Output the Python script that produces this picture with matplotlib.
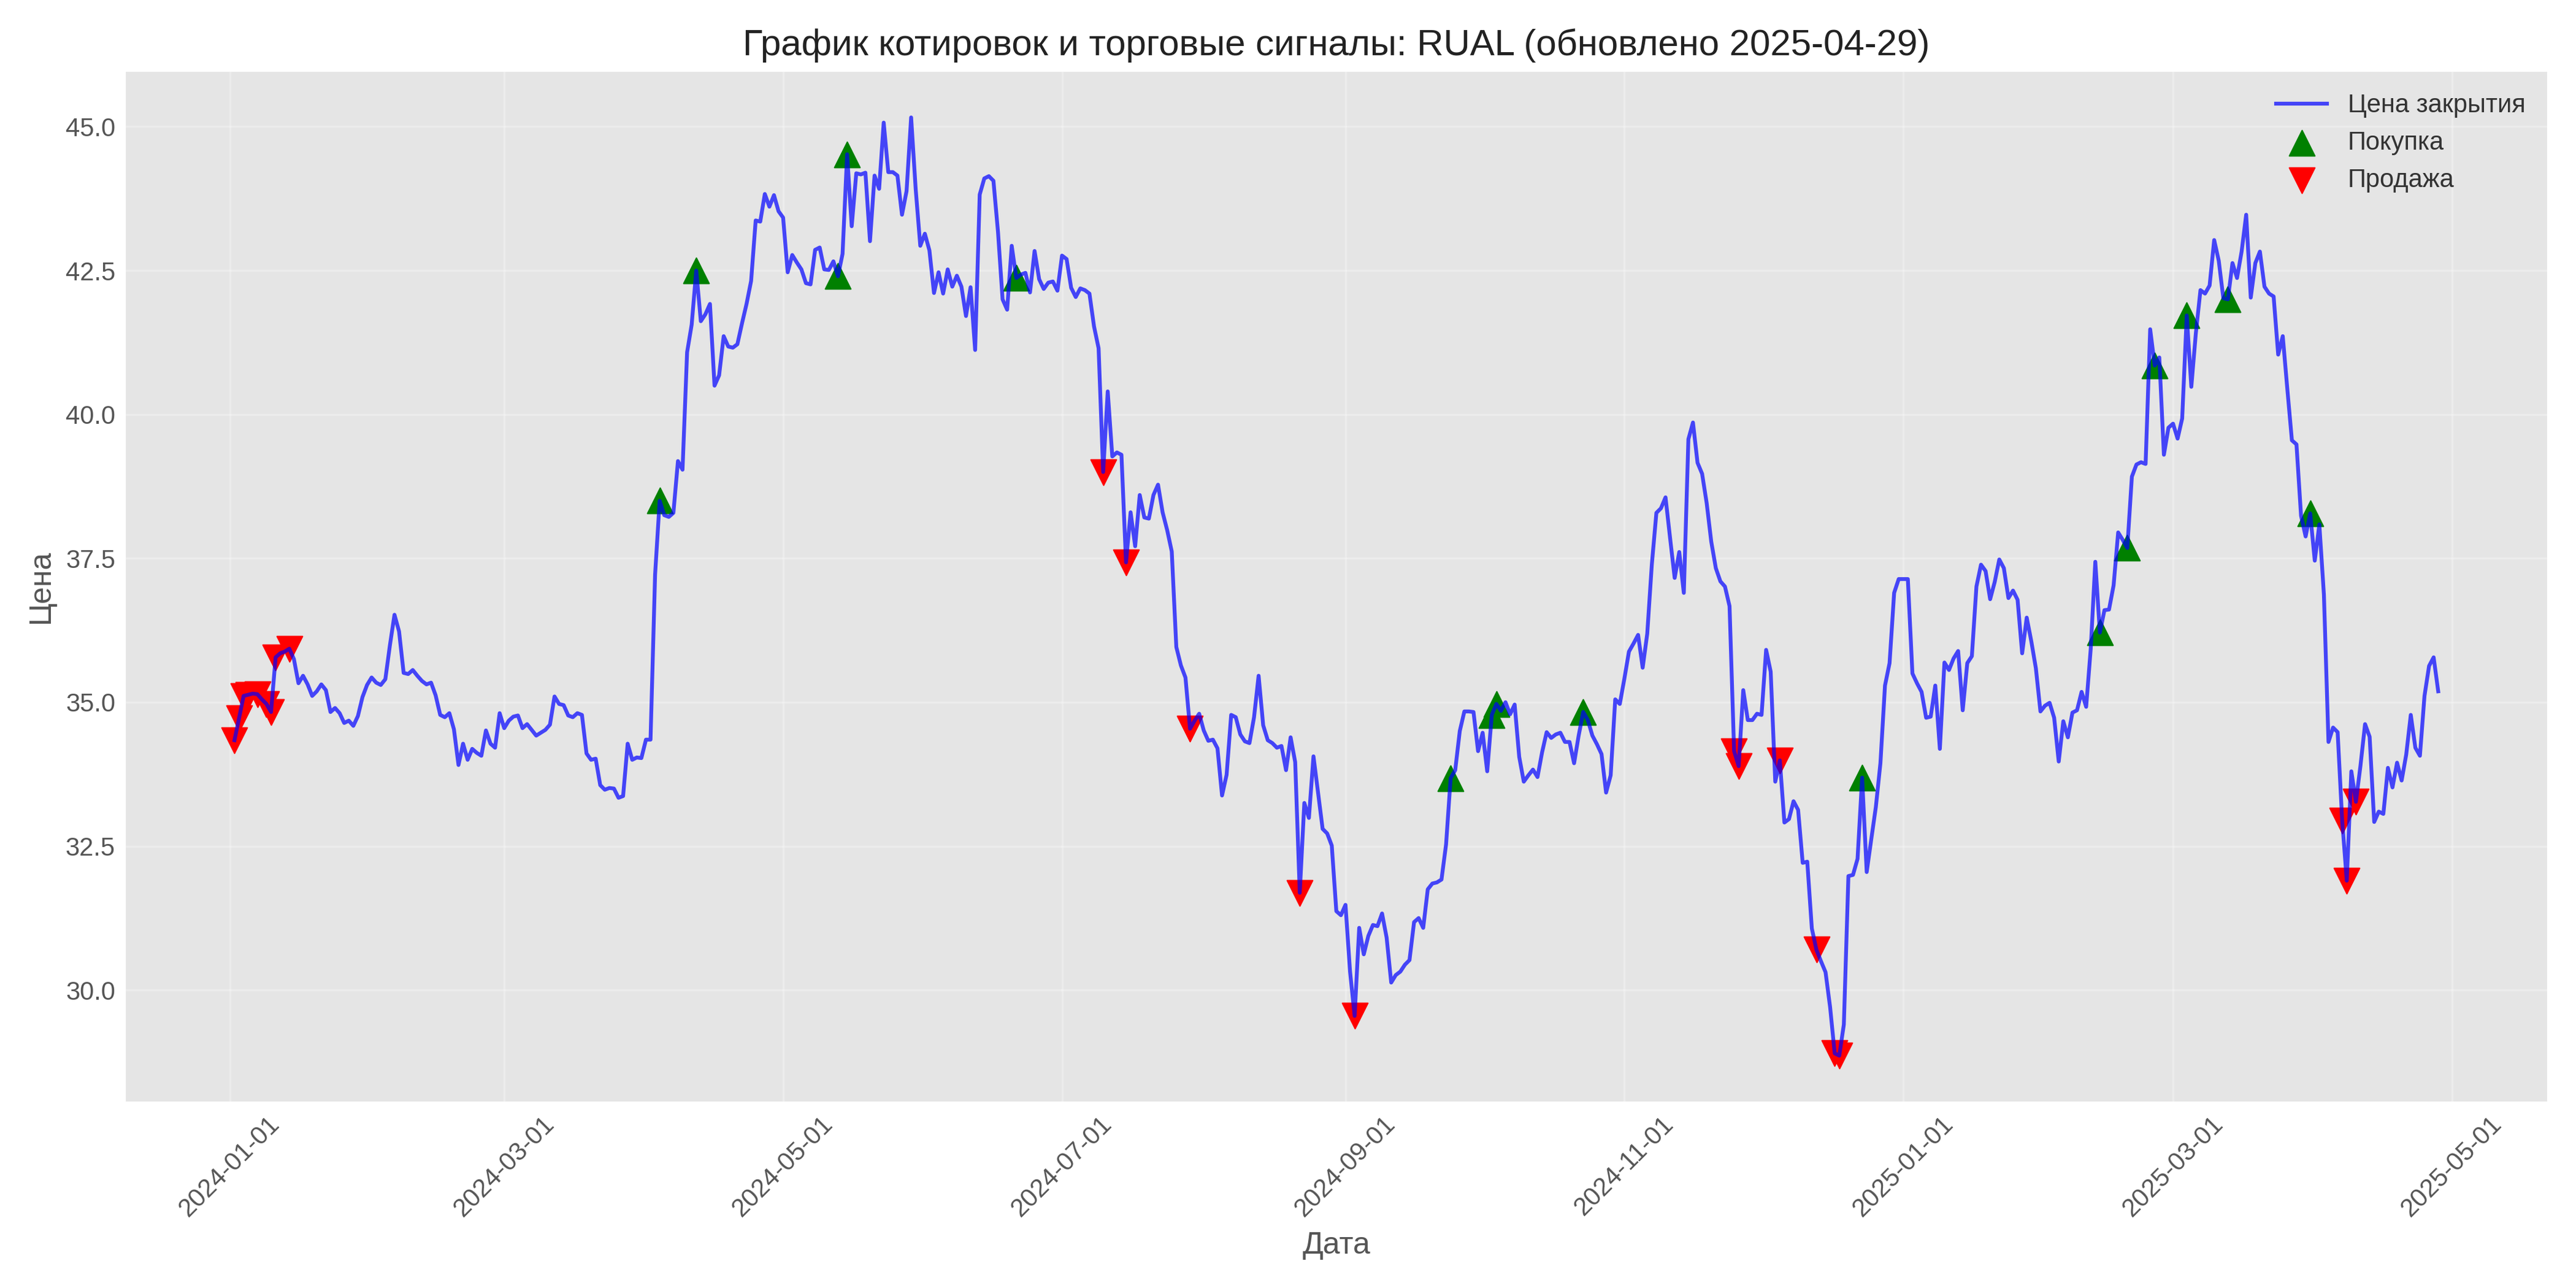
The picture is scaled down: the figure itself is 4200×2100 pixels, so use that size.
import pandas as pd
import numpy as np
import matplotlib
matplotlib.use('Agg')
import matplotlib.pyplot as plt
import matplotlib.dates as mdates
from matplotlib.ticker import MultipleLocator, FormatStrFormatter

# дневные цены закрытия RUAL, с 2024-01-02
start_date = '2024-01-02'
close = [
    34.34, 34.72, 35.11, 35.13, 35.15, 35.14, 35.05, 34.97, 34.83, 35.78,
    35.85, 35.88, 35.93, 35.75, 35.33, 35.46, 35.31, 35.11, 35.19, 35.31,
    35.21, 34.83, 34.90, 34.81, 34.64, 34.68, 34.59, 34.76, 35.09, 35.30,
    35.43, 35.34, 35.30, 35.40, 35.99, 36.52, 36.23, 35.51, 35.49, 35.56,
    35.46, 35.37, 35.31, 35.34, 35.12, 34.78, 34.74, 34.81, 34.53, 33.91,
    34.28, 34.00, 34.19, 34.12, 34.07, 34.51, 34.28, 34.21, 34.81, 34.55,
    34.68, 34.75, 34.77, 34.55, 34.62, 34.52, 34.42, 34.47, 34.52, 34.61,
    35.10, 34.97, 34.95, 34.77, 34.74, 34.81, 34.78, 34.11, 34.00, 34.02,
    33.56, 33.48, 33.51, 33.50, 33.34, 33.37, 34.28, 34.00, 34.04, 34.03,
    34.35, 34.35, 37.22, 38.50, 38.25, 38.22, 38.29, 39.19, 39.04, 41.08,
    41.56, 42.50, 41.62, 41.74, 41.92, 40.50, 40.68, 41.36, 41.18, 41.16,
    41.22, 41.58, 41.92, 42.32, 43.37, 43.35, 43.83, 43.61, 43.81, 43.53,
    43.42, 42.47, 42.77, 42.64, 42.52, 42.28, 42.26, 42.86, 42.90, 42.52,
    42.51, 42.66, 42.40, 42.79, 44.52, 43.27, 44.19, 44.17, 44.20, 43.01,
    44.15, 43.92, 45.07, 44.21, 44.21, 44.15, 43.47, 43.88, 45.16, 43.91,
    42.93, 43.14, 42.85, 42.11, 42.47, 42.10, 42.52, 42.22, 42.41, 42.22,
    41.71, 42.21, 41.12, 43.82, 44.10, 44.14, 44.06, 43.17, 42.00, 41.82,
    42.93, 42.37, 42.43, 42.46, 42.12, 42.84, 42.35, 42.18, 42.29, 42.31,
    42.15, 42.76, 42.70, 42.20, 42.04, 42.19, 42.16, 42.10, 41.53, 41.15,
    39.00, 40.40, 39.27, 39.34, 39.30, 37.43, 38.30, 37.71, 38.60, 38.21,
    38.19, 38.60, 38.78, 38.30, 37.99, 37.62, 35.96, 35.64, 35.43, 34.54,
    34.68, 34.80, 34.51, 34.33, 34.35, 34.20, 33.38, 33.74, 34.78, 34.74,
    34.44, 34.32, 34.29, 34.74, 35.46, 34.60, 34.34, 34.29, 34.21, 34.24,
    33.82, 34.39, 33.96, 31.69, 33.25, 32.99, 34.06, 33.43, 32.80, 32.72,
    32.51, 31.37, 31.30, 31.48, 30.32, 29.55, 31.08, 30.62, 30.94, 31.13,
    31.11, 31.33, 30.91, 30.13, 30.26, 30.32, 30.44, 30.52, 31.18, 31.25,
    31.08, 31.75, 31.85, 31.87, 31.92, 32.53, 33.68, 33.82, 34.50, 34.84,
    34.84, 34.83, 34.15, 34.47, 33.80, 34.78, 34.97, 34.85, 35.00, 34.79,
    34.96, 34.05, 33.62, 33.73, 33.83, 33.70, 34.13, 34.48, 34.38, 34.44,
    34.47, 34.31, 34.31, 33.94, 34.42, 34.83, 34.69, 34.42, 34.27, 34.10,
    33.43, 33.73, 35.05, 34.97, 35.41, 35.88, 36.02, 36.17, 35.60, 36.19,
    37.39, 38.29, 38.37, 38.56, 37.85, 37.16, 37.61, 36.90, 39.57, 39.86,
    39.16, 38.97, 38.46, 37.79, 37.33, 37.10, 37.01, 36.67, 34.15, 33.89,
    35.21, 34.69, 34.69, 34.80, 34.78, 35.91, 35.53, 33.62, 33.99, 32.91,
    32.97, 33.28, 33.13, 32.21, 32.23, 31.07, 30.70, 30.50, 30.31, 29.70,
    28.90, 28.86, 29.40, 31.98, 32.00, 32.28, 33.69, 32.05, 32.62, 33.18,
    33.94, 35.29, 35.68, 36.90, 37.14, 37.14, 37.14, 35.50, 35.33, 35.18,
    34.73, 34.75, 35.29, 34.19, 35.69, 35.56, 35.76, 35.89, 34.86, 35.68,
    35.80, 37.01, 37.39, 37.28, 36.79, 37.09, 37.48, 37.33, 36.81, 36.94,
    36.78, 35.85, 36.47, 36.06, 35.59, 34.84, 34.94, 34.99, 34.73, 33.97,
    34.67, 34.39, 34.82, 34.86, 35.18, 34.92, 35.93, 37.44, 36.21, 36.60,
    36.61, 37.03, 37.95, 37.82, 37.68, 38.92, 39.13, 39.17, 39.14, 41.48,
    40.85, 40.99, 39.30, 39.77, 39.84, 39.58, 39.93, 41.72, 40.48, 41.42,
    42.16, 42.10, 42.24, 43.03, 42.67, 42.02, 42.00, 42.63, 42.37, 42.83,
    43.47, 42.03, 42.63, 42.83, 42.22, 42.10, 42.05, 41.04, 41.36, 40.44,
    39.55, 39.48, 38.24, 37.88, 38.28, 37.46, 38.09, 36.87, 34.31, 34.56,
    34.48, 32.94, 31.90, 33.80, 33.27, 33.90, 34.62, 34.40, 32.92, 33.10,
    33.06, 33.86, 33.52, 33.95, 33.64, 34.09, 34.78, 34.21, 34.07, 35.11,
    35.63, 35.78, 35.19,
]

# даты сигналов
buy_dates = [
    '2024-04-04', '2024-04-12', '2024-05-13', '2024-05-15', '2024-06-21',
    '2024-09-24', '2024-10-03', '2024-10-04', '2024-10-23', '2024-12-23',
    '2025-02-13', '2025-02-19', '2025-02-25', '2025-03-04', '2025-03-13',
    '2025-03-31',
]
sell_dates = [
    '2024-01-02', '2024-01-03', '2024-01-04', '2024-01-05', '2024-01-07',
    '2024-01-09', '2024-01-10', '2024-01-11', '2024-01-14', '2024-07-10',
    '2024-07-15', '2024-07-29', '2024-08-22', '2024-09-03', '2024-11-25',
    '2024-11-26', '2024-12-05', '2024-12-13', '2024-12-17', '2024-12-18',
    '2025-04-07', '2025-04-08', '2025-04-10',
]

ticker = 'RUAL'
updated = '2025-04-29'

df = pd.DataFrame({'close': close},
                  index=pd.date_range(start_date, periods=len(close), freq='D'))
buys = df.loc[pd.to_datetime(buy_dates), 'close']
sells = df.loc[pd.to_datetime(sell_dates), 'close']

plt.style.use('ggplot')
plt.rcParams['font.family'] = ['Liberation Sans', 'DejaVu Sans']

fig, ax = plt.subplots(figsize=(14, 7))

ax.plot(df.index, df['close'], color='blue', alpha=0.7, linewidth=1.5, label='Цена закрытия')
ax.scatter(buys.index, buys.values, marker='^', color='green', s=100, label='Покупка')
ax.scatter(sells.index, sells.values, marker='v', color='red', s=100, label='Продажа')

# размер заголовка берётся из стиля ggplot (x-large)
ax.set_title(f'График котировок и торговые сигналы: {ticker} (обновлено {updated})',
             color='#222222')
ax.set_xlabel('Дата', fontsize=12)
ax.set_ylabel('Цена', fontsize=12)

ax.xaxis.set_major_locator(mdates.MonthLocator(bymonth=[1, 3, 5, 7, 9, 11]))
ax.xaxis.set_major_formatter(mdates.DateFormatter('%Y-%m-%d'))
ax.yaxis.set_major_locator(MultipleLocator(2.5))
ax.yaxis.set_major_formatter(FormatStrFormatter('%.1f'))
plt.setp(ax.get_xticklabels(), rotation=45)
ax.tick_params(length=0)

ax.grid(True, alpha=0.3)
leg = ax.legend(loc='upper right', frameon=False)
for t in leg.get_texts():
    t.set_color('#333333')

plt.tight_layout()
plt.savefig('out.png', dpi=300)
